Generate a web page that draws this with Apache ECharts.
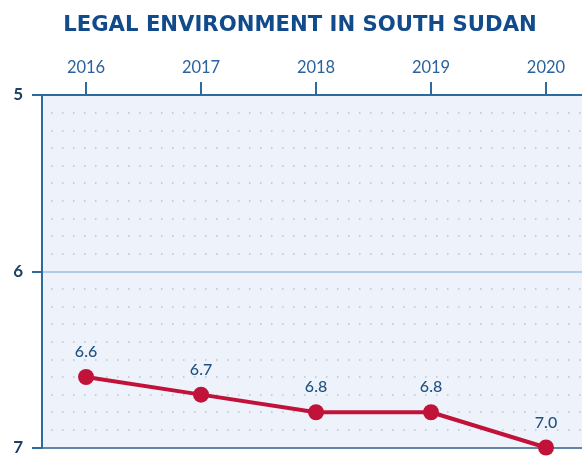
<!DOCTYPE html>
<html><head><meta charset="utf-8">
<script src="https://cdn.jsdelivr.net/npm/echarts@6/dist/echarts.min.js"></script>
<style>html,body{margin:0;padding:0;background:#fff}#c{width:582px;height:456px}</style>
</head><body><div id="c"></div>
<script>
const title = "LEGAL ENVIRONMENT IN SOUTH SUDAN";
const years = [2016, 2017, 2018, 2019, 2020];
const scores = [6.6, 6.7, 6.8, 6.8, 7.0];
const yTicks = [5, 6, 7];

const chart = echarts.init(document.getElementById('c'));
chart.setOption({
  animation: false,
  backgroundColor: '#ffffff',
  title: {
    text: title, left: 295, top: 10, textAlign: 'center',
    textStyle: {fontFamily: 'DejaVu Sans', fontWeight: 'bold', fontSize: 21.2, color: '#114b8c'}
  },
  grid: {left: 42, top: 95, width: 540, height: 354, show: true, backgroundColor: '#eef3fb', borderWidth: 0},
  xAxis: [{
    type: 'value', position: 'top', min: 2015.617, max: 2020.313,
    axisLine: {show: true, lineStyle: {color: '#2f6a9e', width: 2}},
    axisTick: {show: true, customValues: years, length: 13, lineStyle: {color: '#2f6a9e', width: 2}},
    axisLabel: {customValues: years, margin: 19, fontFamily: 'Lato', fontSize: 16.5, color: '#2a62a0', formatter: v => String(Math.round(v))},
    splitLine: {show: false}
  }, {
    type: 'value', position: 'bottom', min: 2015.617, max: 2020.313,
    axisLine: {show: true, lineStyle: {color: '#2f5f8c', width: 1.5}},
    axisTick: {show: false}, axisLabel: {show: false}, splitLine: {show: false}
  }],
  yAxis: {
    type: 'value', inverse: true, min: 5, max: 7, interval: 1,
    axisLine: {show: true, lineStyle: {color: '#2f6a9e', width: 2}},
    axisTick: {show: true, length: 10, lineStyle: {color: '#2f6a9e', width: 2}},
    axisLabel: {margin: 19, fontFamily: 'Lato', fontWeight: 'bold', fontSize: 17, color: '#1d3f68'},
    splitLine: {show: true, showMinLine: false, showMaxLine: false, lineStyle: {color: '#aecbe8', width: 2}},
    minorTick: {show: false, splitNumber: 10},
    minorSplitLine: {show: true, lineStyle: {color: '#b9c3cf', width: 1.5, type: [1.5, 9.5], dashOffset: -9}}
  },
  series: [{
    type: 'line', xAxisIndex: 0,
    data: years.map((y, i) => [y, scores[i]]),
    lineStyle: {color: '#c1123a', width: 4},
    itemStyle: {color: '#c1123a'},
    symbol: 'circle', symbolSize: 16,
    label: {show: true, position: 'top', distance: 9, fontFamily: 'Lato', fontWeight: 500, fontSize: 16, color: '#1f5282',
      formatter: p => p.value[1].toFixed(1)}
  }]
});
</script></body></html>
